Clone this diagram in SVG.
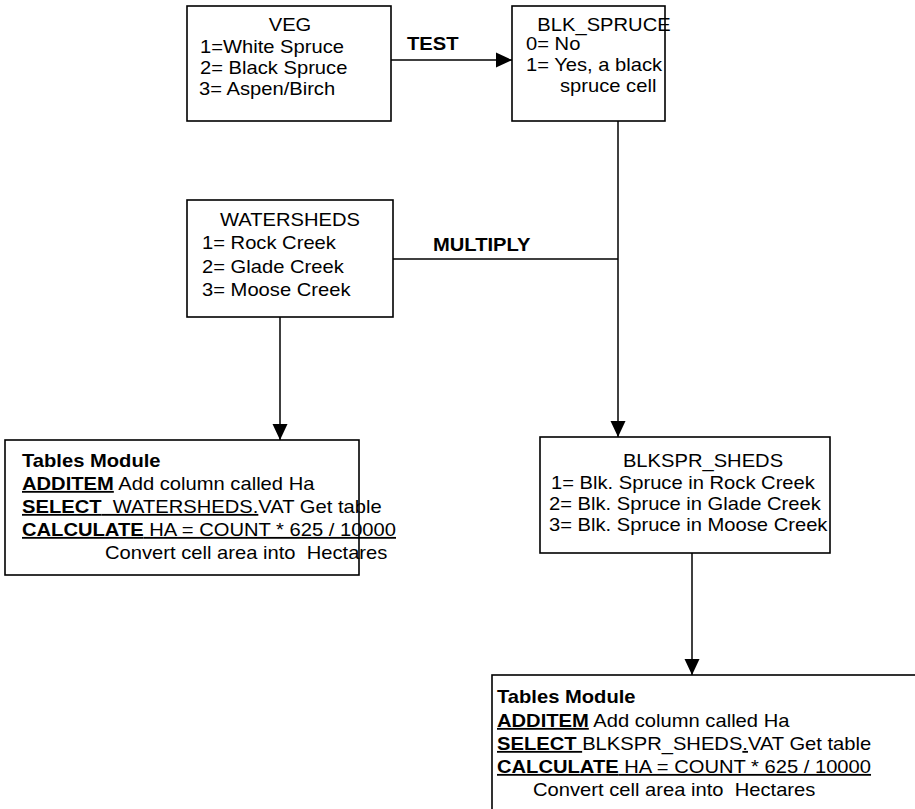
<svg xmlns="http://www.w3.org/2000/svg" width="915" height="809" viewBox="0 0 915 809">
  <style>
    .box { fill: #fff; stroke: #000; stroke-width: 1.6; }
    .wire { fill: none; stroke: #000; stroke-width: 1.5; }
    .t { font-family: "Liberation Sans", Arial, sans-serif; font-size: 18px; fill: #000; white-space: pre; }
    .b { font-weight: bold; }
    .u { text-decoration: underline; }
    .c { text-anchor: middle; }
  </style>
  <defs>
    <marker id="arrow" markerUnits="userSpaceOnUse" markerWidth="16" markerHeight="16" refX="16" refY="8" orient="auto">
      <path d="M0,0.5 L16,8 L0,15.5 Z" fill="#000"/>
    </marker>
  </defs>
  <rect width="915" height="809" fill="#fff"/>

  <!-- connectors -->
  <g id="connectors">
    <path class="wire" d="M391,60 H512" marker-end="url(#arrow)"/>
    <text class="t b" xml:space="preserve" transform="translate(407 50) scale(1.12 1)">TEST</text>
    <path class="wire" d="M618,121 V437" marker-end="url(#arrow)"/>
    <path class="wire" d="M393,259 H618"/>
    <text class="t b" xml:space="preserve" transform="translate(433 251) scale(1.12 1)">MULTIPLY</text>
    <path class="wire" d="M280,317 V440" marker-end="url(#arrow)"/>
    <path class="wire" d="M692,553 V675" marker-end="url(#arrow)"/>
  </g>

  <!-- VEG grid -->
  <g id="veg">
    <rect class="box" x="187" y="6" width="204" height="115"/>
    <text class="t c" xml:space="preserve" transform="translate(290 31) scale(1.12 1)">VEG</text>
    <text class="t" xml:space="preserve" transform="translate(200 53) scale(1.12 1)">1=White Spruce</text>
    <text class="t" xml:space="preserve" transform="translate(200 74) scale(1.12 1)">2= Black Spruce</text>
    <text class="t" xml:space="preserve" transform="translate(199 95) scale(1.12 1)">3= Aspen/Birch</text>
  </g>

  <!-- BLK_SPRUCE grid -->
  <g id="blk-spruce">
    <rect class="box" x="512" y="6" width="153" height="115"/>
    <text class="t c" xml:space="preserve" transform="translate(604 31) scale(1.12 1)">BLK_SPRUCE</text>
    <text class="t" xml:space="preserve" transform="translate(526 50) scale(1.12 1)">0= No</text>
    <text class="t" xml:space="preserve" transform="translate(526 71) scale(1.12 1)">1= Yes, a black</text>
    <text class="t" xml:space="preserve" transform="translate(560 92) scale(1.12 1)">spruce cell</text>
  </g>

  <!-- WATERSHEDS grid -->
  <g id="watersheds">
    <rect class="box" x="187" y="200" width="206" height="117"/>
    <text class="t c" xml:space="preserve" transform="translate(290 226) scale(1.12 1)">WATERSHEDS</text>
    <text class="t" xml:space="preserve" transform="translate(202 249) scale(1.12 1)">1= Rock Creek</text>
    <text class="t" xml:space="preserve" transform="translate(202 273) scale(1.12 1)">2= Glade Creek</text>
    <text class="t" xml:space="preserve" transform="translate(202 296) scale(1.12 1)">3= Moose Creek</text>
  </g>

  <!-- Tables module for WATERSHEDS -->
  <g id="tables-watersheds">
    <rect class="box" x="5" y="440" width="354" height="135"/>
    <text class="t b" xml:space="preserve" transform="translate(22 467) scale(1.12 1)">Tables Module</text>
    <text class="t" xml:space="preserve" transform="translate(22 490) scale(1.12 1)"><tspan class="b u">ADDITEM</tspan> Add column called Ha</text>
    <text class="t" xml:space="preserve" transform="translate(22 513) scale(1.12 1)"><tspan class="b u">SELECT</tspan><tspan class="u">  WATERSHEDS.</tspan>VAT Get table</text>
    <text class="t" xml:space="preserve" transform="translate(22 536) scale(1.12 1)"><tspan class="b u">CALCULATE</tspan><tspan class="u"> HA = COUNT * 625 / 10000</tspan></text>
    <text class="t" xml:space="preserve" transform="translate(105 559) scale(1.12 1)">Convert cell area into  Hectares</text>
  </g>

  <!-- BLKSPR_SHEDS grid -->
  <g id="blkspr-sheds">
    <rect class="box" x="540" y="437" width="290" height="116"/>
    <text class="t c" xml:space="preserve" transform="translate(703 467) scale(1.12 1)">BLKSPR_SHEDS</text>
    <text class="t" xml:space="preserve" transform="translate(551 489) scale(1.12 1)">1= Blk. Spruce in Rock Creek</text>
    <text class="t" xml:space="preserve" transform="translate(549 510) scale(1.12 1)">2= Blk. Spruce in Glade Creek</text>
    <text class="t" xml:space="preserve" transform="translate(549 531) scale(1.12 1)">3= Blk. Spruce in Moose Creek</text>
  </g>

  <!-- Tables module for BLKSPR_SHEDS -->
  <g id="tables-blkspr-sheds">
    <rect class="box" x="492" y="675" width="440" height="150"/>
    <text class="t b" xml:space="preserve" transform="translate(497 703) scale(1.12 1)">Tables Module</text>
    <text class="t" xml:space="preserve" transform="translate(497 727) scale(1.12 1)"><tspan class="b u">ADDITEM</tspan> Add column called Ha</text>
    <text class="t" xml:space="preserve" transform="translate(497 750) scale(1.12 1)"><tspan class="b u">SELECT </tspan>BLKSPR_SHEDS<tspan class="u">.</tspan>VAT Get table</text>
    <text class="t" xml:space="preserve" transform="translate(497 773) scale(1.12 1)"><tspan class="b u">CALCULATE</tspan><tspan class="u"> HA = COUNT * 625 / 10000</tspan></text>
    <text class="t" xml:space="preserve" transform="translate(533 796) scale(1.12 1)">Convert cell area into  Hectares</text>
  </g>
</svg>
